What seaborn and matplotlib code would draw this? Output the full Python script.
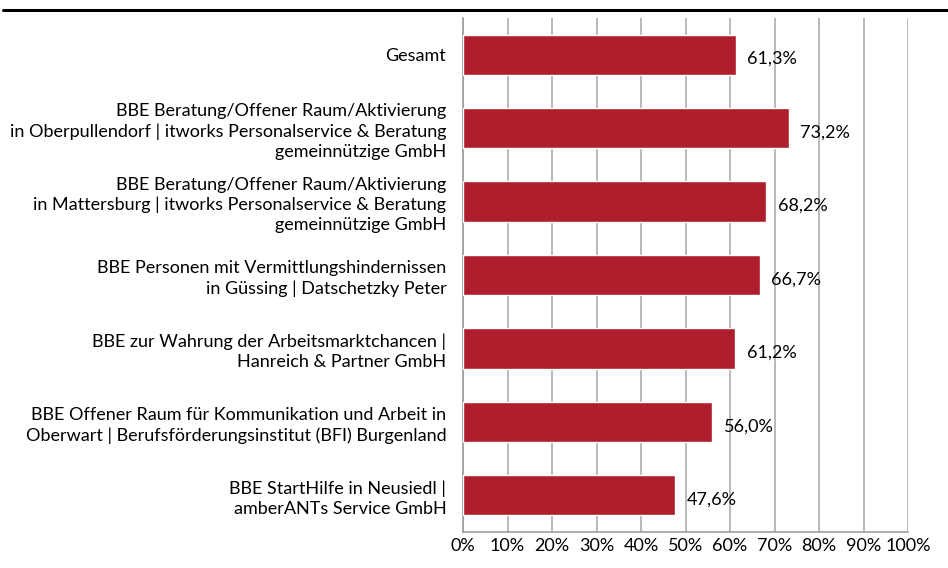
import matplotlib
matplotlib.use("Agg")
import matplotlib.pyplot as plt
import seaborn as sns
import pandas as pd
from matplotlib.lines import Line2D

categories = [
    "Gesamt",
    "BBE Beratung/Offener Raum/Aktivierung\nin Oberpullendorf | itworks Personalservice & Beratung\ngemeinnützige GmbH",
    "BBE Beratung/Offener Raum/Aktivierung\nin Mattersburg | itworks Personalservice & Beratung\ngemeinnützige GmbH",
    "BBE Personen mit Vermittlungshindernissen\nin Güssing | Datschetzky Peter",
    "BBE zur Wahrung der Arbeitsmarktchancen |\nHanreich & Partner GmbH",
    "BBE Offener Raum für Kommunikation und Arbeit in\nOberwart | Berufsförderungsinstitut (BFI) Burgenland",
    "BBE StartHilfe in Neusiedl |\namberANTs Service GmbH",
]
values = [61.3, 73.2, 68.2, 66.7, 61.2, 56.0, 47.6]
tick_values = [0, 10, 20, 30, 40, 50, 60, 70, 80, 90, 100]
tick_labels = [f"{t}%" for t in tick_values]

sns.set_theme(style="white")
plt.rcParams["font.family"] = ["Lato", "DejaVu Sans"]

FS = 13

df = pd.DataFrame({"cat": categories, "val": values})

fig = plt.figure(figsize=(9.48, 5.68), dpi=100)
ax = fig.add_axes([463 / 948, 1 - 532 / 568, (908 - 463) / 948, (532 - 18) / 568])

sns.barplot(data=df, x="val", y="cat", orient="h", color="#AF1E2D",
            saturation=1, width=0.55, ax=ax, zorder=3)

ax.set_xlim(0, 100)
ax.set_ylim(6.5, -0.5)
ax.set_xticks(tick_values)
ax.set_xticklabels(tick_labels, fontsize=FS, color="#000000")
ax.set_xlabel("")
ax.set_ylabel("")
ax.set_yticks(range(len(categories)))
ax.set_yticklabels(categories, fontsize=FS, color="#000000", linespacing=1.3)
ax.tick_params(axis="y", length=0, pad=12)
ax.tick_params(axis="x", length=4, color="#999999", pad=2, direction="inout")

ax.set_yticks([i + 0.5 for i in range(-1, len(categories))], minor=True)
ax.tick_params(axis="y", which="minor", length=5, color="#999999", direction="out")

ax.grid(axis="x", color="#A6A6A6", linewidth=1.1, zorder=0)
ax.set_axisbelow(True)
for s in ["top", "right"]:
    ax.spines[s].set_visible(False)
for s in ["left", "bottom"]:
    ax.spines[s].set_color("#999999")
    ax.spines[s].set_linewidth(1.1)

for i, v in enumerate(values):
    ax.text(v + 2.6, i + 0.06, f"{v:.1f}%".replace(".", ","), va="center",
            ha="left", fontsize=FS, color="#000000", zorder=4)

fig.add_artist(Line2D([0.003, 1.0], [1 - 10 / 568, 1 - 10 / 568],
                      color="#000000", linewidth=2.2, transform=fig.transFigure))

fig.savefig("out.png", dpi=100)
